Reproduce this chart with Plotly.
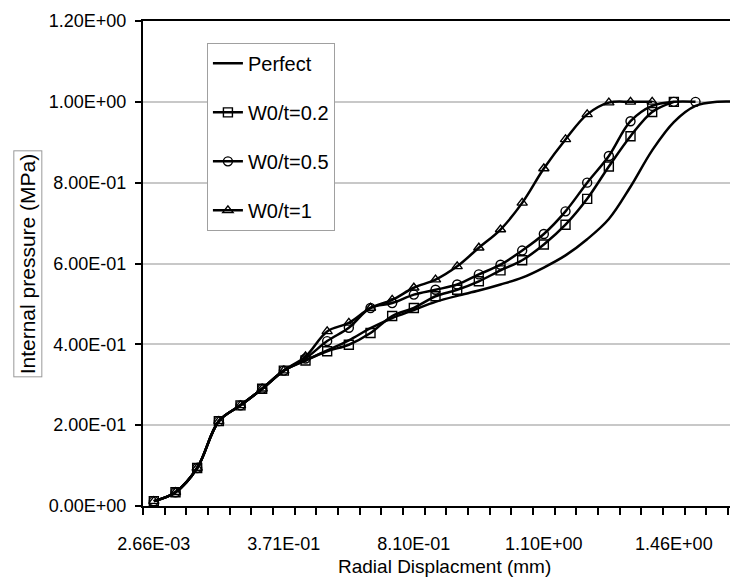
import plotly.graph_objects as go

# ---- data ----
categories = list(range(28))
x_tick_positions = [0, 6, 12, 18, 24]
x_tick_labels = ["2.66E-03", "3.71E-01", "8.10E-01", "1.10E+00", "1.46E+00"]
y_tick_values = [0, 0.2, 0.4, 0.6, 0.8, 1.0, 1.2]
y_tick_labels = ["0.00E+00", "2.00E-01", "4.00E-01", "6.00E-01", "8.00E-01", "1.00E+00", "1.20E+00"]

perfect = [0.012, 0.034, 0.094, 0.21, 0.249, 0.29, 0.335, 0.36, 0.385, 0.41, 0.44, 0.465,
           0.485, 0.505, 0.52, 0.533, 0.548, 0.565, 0.59, 0.62, 0.66, 0.71, 0.79, 0.88,
           0.95, 0.99, 1.0, 1.0]
w0t_02 = [0.012, 0.034, 0.094, 0.21, 0.249, 0.29, 0.335, 0.36, 0.383, 0.399, 0.428, 0.47,
          0.49, 0.519, 0.535, 0.556, 0.583, 0.608, 0.647, 0.696, 0.76, 0.84, 0.915, 0.975, 1.0]
w0t_05 = [0.012, 0.034, 0.094, 0.21, 0.249, 0.29, 0.335, 0.365, 0.408, 0.441, 0.49, 0.502,
          0.523, 0.535, 0.548, 0.573, 0.597, 0.632, 0.673, 0.729, 0.80, 0.866, 0.952, 0.99,
          1.0, 1.0]
w0t_1 = [0.012, 0.034, 0.094, 0.21, 0.249, 0.29, 0.335, 0.37, 0.432, 0.453, 0.49, 0.51,
         0.54, 0.56, 0.593, 0.639, 0.684, 0.75, 0.835, 0.907, 0.969, 0.998, 1.0, 1.0]

series = [
    ("Perfect", perfect, None),
    ("W0/t=0.2", w0t_02, "square-open"),
    ("W0/t=0.5", w0t_05, "circle-open"),
    ("W0/t=1", w0t_1, "triangle-up-open"),
]

FONT = "Liberation Sans, Arial, Helvetica, sans-serif"
INK = "#000000"

fig = go.Figure()
for name, vals, sym in series:
    kw = dict(
        x=categories[:len(vals)], y=vals, name=name, legendgroup=name,
        line=dict(color=INK, width=2.5, shape="spline", smoothing=1.0),
        hoverinfo="skip",
    )
    if sym:
        kw["mode"] = "lines+markers"
        kw["marker"] = dict(symbol=sym, size=9, color=INK, line=dict(width=1.4, color=INK))
    else:
        kw["mode"] = "lines"
    fig.add_trace(go.Scatter(**kw))

fig.update_layout(
    width=738, height=582,
    margin=dict(l=135, r=0, t=13, b=84),
    paper_bgcolor="white", plot_bgcolor="white",
    font=dict(family=FONT, size=18, color=INK),
    showlegend=True,
    legend=dict(
        x=0.106, y=0.955, xanchor="left", yanchor="top",
        bordercolor="#a0a0a0", borderwidth=1, bgcolor="white",
        font=dict(family=FONT, size=20, color=INK),
        tracegroupgap=20, itemwidth=30,
    ),
    xaxis=dict(
        range=[-0.5, 27.33], tickmode="array", tickvals=x_tick_positions, ticktext=x_tick_labels,
        ticks="outside", ticklen=20, tickcolor="rgba(0,0,0,0)",
        minor=dict(ticks="outside", ticklen=7, tickwidth=2, tickcolor=INK,
                   tick0=-0.5, dtick=1, showgrid=False),
        showline=True, linecolor=INK, linewidth=2, mirror=True,
        showgrid=False, zeroline=False,
        tickfont=dict(family=FONT, size=18, color=INK),
    ),
    yaxis=dict(
        range=[0, 1.2], tickmode="array", tickvals=y_tick_values, ticktext=y_tick_labels,
        ticks="outside", ticklen=6, tickwidth=2, tickcolor=INK, ticklabelstandoff=5,
        showline=True, linecolor=INK, linewidth=2,
        showgrid=True, gridcolor="#c8c8c8", gridwidth=2, zeroline=False,
        tickfont=dict(family=FONT, size=18, color=INK),
    ),
    yaxis2=dict(
        overlaying="y", anchor="x", side="left", range=[0, 1.2],
        tickmode="array", tickvals=y_tick_values, ticks="inside", ticklen=6,
        tickwidth=2, tickcolor=INK, showticklabels=False, showgrid=False,
        showline=False, zeroline=False,
    ),
    annotations=[
        dict(text="Internal pressure (MPa)", xref="paper", yref="paper",
             x=-0.191, y=0.5, textangle=-90, showarrow=False,
             xanchor="center", yanchor="middle",
             font=dict(family=FONT, size=21, color=INK),
             bordercolor="#999999", borderwidth=1, borderpad=2),
        dict(text="Radial Displacment (mm)", xref="paper", yref="paper",
             x=0.5, y=-0.124, showarrow=False, xanchor="center", yanchor="middle",
             font=dict(family=FONT, size=19, color=INK)),
    ],
)

fig.write_html("out.html")
